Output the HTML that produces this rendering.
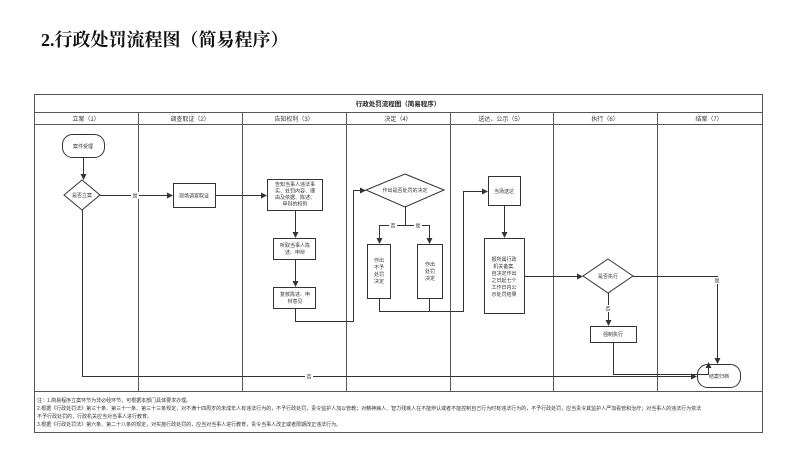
<!DOCTYPE html>
<html><head><meta charset="utf-8"><style>
html,body{margin:0;padding:0;background:#fff;width:800px;height:474px;overflow:hidden}
svg{display:block}
text{font-family:"Liberation Sans","Noto Sans CJK SC",sans-serif;fill:#333}
</style></head><body>
<svg width="800" height="474" viewBox="0 0 800 474" xmlns="http://www.w3.org/2000/svg">
<defs><marker id="a" markerWidth="6" markerHeight="6" refX="5" refY="3" orient="auto" markerUnits="userSpaceOnUse"><path d="M0,0 L6,3 L0,6 z" fill="#333"/></marker></defs>
<text x="41" y="46" font-size="18" font-weight="bold" style="font-family:'Liberation Serif','Noto Serif CJK SC',serif;fill:#111">2.行政处罚流程图（简易程序）</text>
<g stroke="#555" fill="none" stroke-width="1">
<rect x="34.5" y="94.5" width="728" height="338"/>
<line x1="34" y1="112.5" x2="762" y2="112.5"/>
<line x1="34" y1="124.5" x2="762" y2="124.5"/>
<line x1="34" y1="391.5" x2="762" y2="391.5"/>
<line x1="138.5" y1="112" x2="138.5" y2="391"/>
<line x1="242.5" y1="112" x2="242.5" y2="391"/>
<line x1="346.5" y1="112" x2="346.5" y2="391"/>
<line x1="450.5" y1="112" x2="450.5" y2="391"/>
<line x1="553.5" y1="112" x2="553.5" y2="391"/>
<line x1="657.5" y1="112" x2="657.5" y2="391"/>
</g>
<g font-size="6" text-anchor="middle">
<text x="398" y="106" font-weight="bold" font-size="6.5" style="fill:#222">行政处罚流程图（简易程序）</text>
<text x="86" y="121">立案（1）</text><text x="190" y="121">调查取证（2）</text><text x="294" y="121">告知权利（3）</text><text x="398" y="121">决定（4）</text><text x="501" y="121">送达、公示（5）</text><text x="605" y="121">执行（6）</text><text x="709" y="121">结案（7）</text>
</g>
<g stroke="#333" fill="#fff" stroke-width="1">
<rect x="62.5" y="134.5" width="42" height="23" rx="10"/>
<path d="M82,180 L100,195 L82,210 L64,195 z"/>
<rect x="173.5" y="183.5" width="42" height="24"/>
<rect x="267.5" y="179.5" width="55" height="31"/>
<rect x="273.5" y="238.5" width="42" height="21"/>
<rect x="273.5" y="287.5" width="42" height="21"/>
<path d="M405,174 L444,190 L405,207 L366,190 z"/>
<rect x="367.5" y="244.5" width="23" height="54"/>
<rect x="417.5" y="244.5" width="25" height="54"/>
<rect x="488.5" y="176.5" width="32" height="29"/>
<rect x="484.5" y="238.5" width="40" height="75"/>
<path d="M608,259 L633,276 L608,293 L583,276 z"/>
<rect x="590.5" y="326.5" width="46" height="16"/>
<rect x="697.5" y="364.5" width="43" height="23" rx="10"/>
</g>
<g stroke="#333" fill="none" stroke-width="1" marker-end="url(#a)">
<path d="M83.5,157 V179"/>
<path d="M100,195.5 H172"/>
<path d="M215,195.5 H266"/>
<path d="M295.5,210 V237"/>
<path d="M295.5,259 V286"/>
<path d="M295.5,308 V321.5 H353.5 V190.5 H365"/>
<path d="M405.5,207 V225.5 H379.5 V243"/>
<path d="M405.5,225.5 H429.5 V243"/>
<path d="M429.5,298 V311.5 H463.5 V191.5 H487"/>
<path d="M504.5,205 V237"/>
<path d="M524,276.5 H582"/>
<path d="M608.5,293 V325"/>
<path d="M633,276.5 H717.5 V363"/>
<path d="M613.5,342 V374.5 H708.5 V363"/>
<path d="M82.5,210 V376.5 H696"/>
</g>
<path d="M379.5,298 V311.5 H430" stroke="#333" fill="none"/>
<g font-size="5" text-anchor="middle">
<rect x="131" y="192" width="8" height="7" fill="#fff"/><text x="135" y="197.5">是</text>
<rect x="389" y="222" width="8" height="7" fill="#fff"/><text x="393" y="227.5">否</text>
<rect x="414" y="222" width="8" height="7" fill="#fff"/><text x="418" y="227.5">是</text>
<rect x="713" y="277" width="8" height="7" fill="#fff"/><text x="717" y="282.5">是</text>
<rect x="604" y="305" width="8" height="7" fill="#fff"/><text x="608" y="310.5">否</text>
<rect x="305" y="373" width="8" height="7" fill="#fff"/><text x="309" y="378.5">否</text>
<text x="83" y="148">案件受理</text>
<text x="82" y="197">是否立案</text>
<text x="194" y="197.5">现场调查取证</text>
<text x="295" y="186">告知当事人违法事</text><text x="295" y="192.5">实、处罚内容、理</text><text x="295" y="199">由及依据、陈述、</text><text x="295" y="205.5">申辩的权利</text>
<text x="295" y="247">听取当事人陈</text><text x="295" y="254">述、申辩</text>
<text x="295" y="296">复核陈述、申</text><text x="295" y="303">辩意见</text>
<text x="405" y="192">作出是否处罚的决定</text>
<text x="379" y="262">作出</text><text x="379" y="269">不予</text><text x="379" y="276">处罚</text><text x="379" y="283">决定</text>
<text x="430" y="266">作出</text><text x="430" y="273">处罚</text><text x="430" y="280">决定</text>
<text x="504" y="193">当场送达</text>
<text x="504" y="261">报所属行政</text><text x="504" y="268">机关备案,</text><text x="504" y="275">自决定作出</text><text x="504" y="282">之日起七个</text><text x="504" y="289">工作日内公</text><text x="504" y="296">示处罚结果</text>
<text x="608" y="278">是否执行</text>
<text x="613" y="336">强制执行</text>
<text x="719" y="378">结案归档</text>
</g>
<g font-size="5" style="fill:#333">
<text x="37" y="402">注：1.简易程序立案环节为非必经环节，可根据本部门具体要求办理。</text>
<text x="37" y="410">2.根据《行政处罚法》第三十条、第三十一条、第三十三条规定，对不满十四周岁的未成年人有违法行为的，不予行政处罚，责令监护人加以管教；对精神病人、智力残疾人在不能辨认或者不能控制自己行为时有违法行为的，不予行政处罚，应当责令其监护人严加看管和治疗；对当事人的违法行为依法</text>
<text x="37" y="418">不予行政处罚的，行政机关应当对当事人进行教育。</text>
<text x="37" y="426">3.根据《行政处罚法》第六条、第二十八条的规定，对实施行政处罚的，应当对当事人进行教育，责令当事人改正或者限期改正违法行为。</text>
</g>
</svg>
</body></html>
